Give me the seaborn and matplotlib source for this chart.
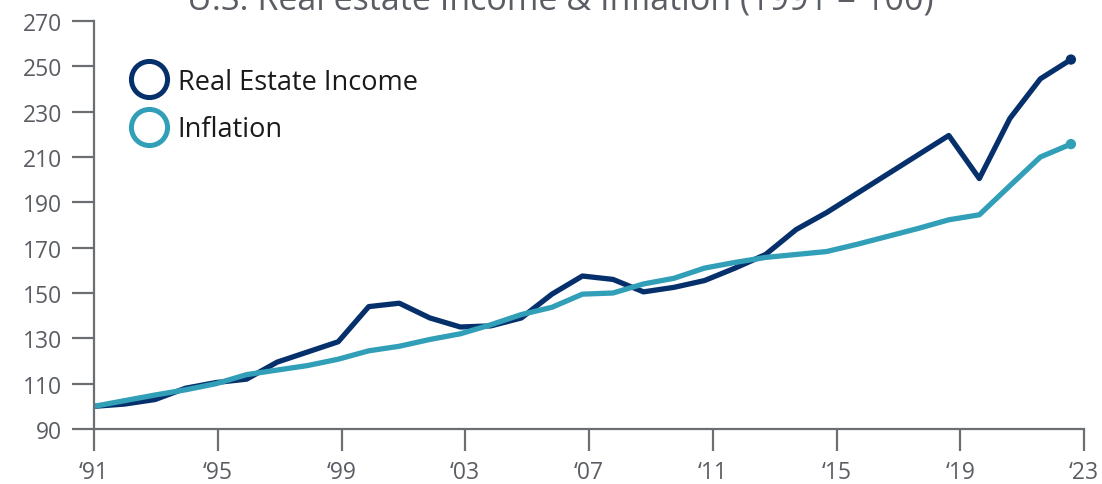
import matplotlib
matplotlib.use("Agg")
import matplotlib.pyplot as plt
import numpy as np
import pandas as pd
import seaborn as sns
from matplotlib.lines import Line2D

# data, 1991 = 100
years = list(range(1991, 2024))
real_estate_income = [
    100, 101, 103, 108, 110.5, 112, 119.5, 124, 128.5, 144,
    145.5, 139, 135, 135.5, 139, 149.5, 157.5, 156, 150.5, 152.5,
    155.5, 161, 167, 178, 185.5, 194, 202.5, 211, 219.5, 200.5,
    227, 244.5, 253,
]
inflation = [
    100, 102.5, 105, 107.3, 110, 114, 116, 118, 120.8, 124.5,
    126.5, 129.5, 132, 136, 140.5, 143.7, 149.5, 150, 154, 156.5,
    161, 163.5, 165.7, 167, 168.3, 171.5, 175, 178.5, 182.3, 184.5,
    197.3, 210, 215.7,
]
series_names = ["Real Estate Income", "Inflation"]
tick_labels = ["\u201891", "\u201895", "\u201899", "\u201803", "\u201807",
               "\u201811", "\u201815", "\u201819", "\u201823"]
y_ticks = list(range(90, 271, 20))

NAVY = "#05306b"
TEAL = "#319fb7"
GREY = "#5a5d63"
AXIS = "#6b6e73"

sns.set_theme(style="white")
plt.rcParams["font.family"] = ["Open Sans", "DejaVu Sans"]

df = pd.DataFrame({
    "idx": list(range(len(years))) * 2,
    "value": real_estate_income + inflation,
    "series": [series_names[0]] * len(years) + [series_names[1]] * len(years),
})

fig = plt.figure(figsize=(11.02, 4.85), dpi=100)
ax = fig.add_axes([0.0853, 0.1134, 0.8984, 0.8412])

sns.lineplot(
    data=df, x="idx", y="value", hue="series",
    palette=[NAVY, TEAL], linewidth=3.8, legend=False, ax=ax,
)

# end-point dots
last = df.groupby("series", sort=False).tail(1)
sns.scatterplot(
    data=last, x="idx", y="value", hue="series",
    palette=[NAVY, TEAL], s=55, linewidth=0, legend=False, ax=ax, zorder=5,
)

ax.set_xlim(0, 32.43)
ax.set_ylim(90, 270)
ax.set_xticks(np.linspace(0, 32.43, len(tick_labels)))
ax.set_xticklabels(tick_labels)
ax.set_yticks(y_ticks)
ax.set_xlabel("")
ax.set_ylabel("")

for side in ["top", "right"]:
    ax.spines[side].set_visible(False)
for side in ["left", "bottom"]:
    ax.spines[side].set_color(AXIS)
    ax.spines[side].set_linewidth(1.6)

ax.tick_params(axis="both", length=16, width=1.6, color=AXIS,
               labelcolor=GREY, labelsize=16.5, direction="out",
               bottom=True, left=True)
ax.tick_params(axis="y", pad=7)
ax.tick_params(axis="x", pad=6)

handles = [
    Line2D([], [], linestyle="none", marker="o", markersize=26,
           markerfacecolor="white", markeredgecolor=c, markeredgewidth=3.6)
    for c in (NAVY, TEAL)
]
ax.legend(
    handles, series_names, loc="upper left", bbox_to_anchor=(0.012, 0.945),
    frameon=False, fontsize=19.5, handletextpad=0.35, labelspacing=0.72,
    handlelength=1.4, labelcolor="#1a1a1a",
)

fig.text(0.508, 0.981, "U.S. Real estate Income & Inflation (1991 = 100)",
         ha="center", va="baseline", fontsize=24.5, color=GREY)

fig.savefig("out.png", dpi=100)
